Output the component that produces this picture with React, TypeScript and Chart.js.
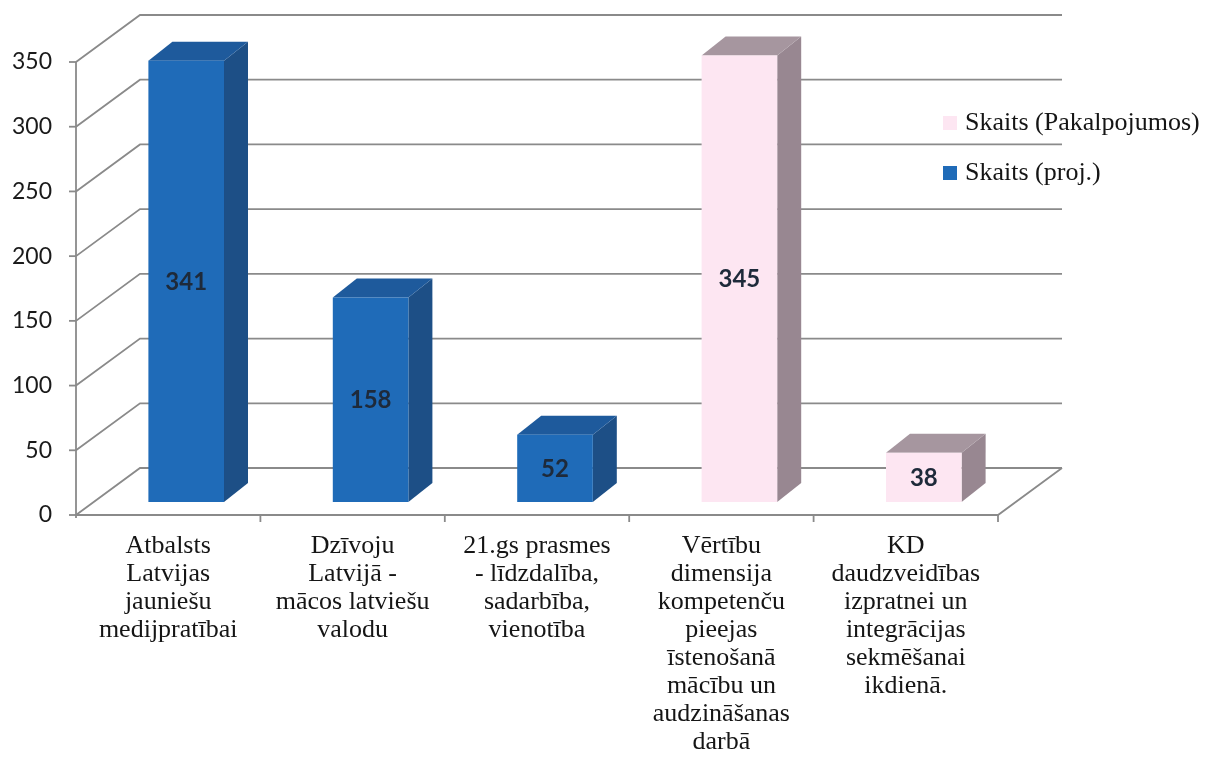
import React, { useEffect, useRef } from "react";
import { Chart, registerables } from "chart.js";

Chart.register(...registerables);

const categories: string[][] = [
  ["Atbalsts", "Latvijas", "jauniešu", "medijpratībai"],
  ["Dzīvoju", "Latvijā -", "mācos latviešu", "valodu"],
  ["21.gs prasmes", "- līdzdalība,", "sadarbība,", "vienotība"],
  ["Vērtību", "dimensija", "kompetenču", "pieejas", "īstenošanā", "mācību un", "audzināšanas", "darbā"],
  ["KD", "daudzveidības", "izpratnei un", "integrācijas", "sekmēšanai", "ikdienā."],
];
const projValues: (number | null)[] = [341, 158, 52, null, null];
const pakalpValues: (number | null)[] = [null, null, null, 345, 38];
const seriesNames = ["Skaits (proj.)", "Skaits (Pakalpojumos)"];
const yTicks = [0, 50, 100, 150, 200, 250, 300, 350];

const BACK_DX = 64;
const BACK_DY = -47;
const BAR_OX = 18;
const BAR_OY = -13;
const BAR_DX = 24;
const BAR_DY = -19;

const palette = [
  { front: "#1f6bb8", top: "#1e5a9c", side: "#1d4f86" },
  { front: "#fde6f2", top: "#a6969f", side: "#988791" },
];

const threeD = {
  id: "threeD",
  beforeDatasetsDraw(chart: any) {
    const { ctx, chartArea } = chart;
    const y = chart.scales.y;
    const L = chartArea.left;
    const R = chartArea.right;
    const y0 = y.getPixelForValue(0);
    ctx.save();
    ctx.strokeStyle = "#8a8a8a";
    ctx.lineWidth = 1.8;
    yTicks.forEach((v) => {
      const py = y.getPixelForValue(v);
      ctx.beginPath();
      ctx.moveTo(L, py);
      ctx.lineTo(L + BACK_DX, py + BACK_DY);
      ctx.lineTo(R + BACK_DX, py + BACK_DY);
      ctx.stroke();
      ctx.beginPath();
      ctx.moveTo(L - 7, py);
      ctx.lineTo(L, py);
      ctx.stroke();
    });
    ctx.beginPath();
    ctx.moveTo(L, y.getPixelForValue(350));
    ctx.lineTo(L, y0 + 3);
    ctx.stroke();
    ctx.beginPath();
    ctx.moveTo(L, y0);
    ctx.lineTo(R, y0);
    ctx.lineTo(R + BACK_DX, y0 + BACK_DY);
    ctx.stroke();
    const n = categories.length;
    const cw = (R - L) / n;
    for (let i = 1; i <= n; i++) {
      const px = L + i * cw;
      ctx.beginPath();
      ctx.moveTo(px, y0);
      ctx.lineTo(px, y0 + 7);
      ctx.stroke();
    }
    ctx.restore();
  },
  beforeDatasetDraw(chart: any, args: any) {
    const { ctx } = chart;
    const meta = args.meta;
    const col = palette[args.index];
    const ds = chart.data.datasets[args.index];
    ctx.save();
    meta.data.forEach((el: any, i: number) => {
      const v = ds.data[i];
      if (v === null || v === undefined) return;
      const p = el.getProps(["x", "y", "base", "width"], true);
      const x0 = p.x - p.width / 2 + BAR_OX;
      const x1 = p.x + p.width / 2 + BAR_OX;
      const top = p.y + BAR_OY;
      const bot = p.base + BAR_OY;
      ctx.fillStyle = col.side;
      ctx.beginPath();
      ctx.moveTo(x1, top);
      ctx.lineTo(x1 + BAR_DX, top + BAR_DY);
      ctx.lineTo(x1 + BAR_DX, bot + BAR_DY);
      ctx.lineTo(x1, bot);
      ctx.closePath();
      ctx.fill();
      ctx.fillStyle = col.top;
      ctx.beginPath();
      ctx.moveTo(x0, top);
      ctx.lineTo(x1, top);
      ctx.lineTo(x1 + BAR_DX, top + BAR_DY);
      ctx.lineTo(x0 + BAR_DX, top + BAR_DY);
      ctx.closePath();
      ctx.fill();
      ctx.fillStyle = col.front;
      ctx.fillRect(x0, top, x1 - x0, bot - top);
      ctx.fillStyle = "#1e2a3a";
      ctx.font = "bold 24px Lato";
      ctx.textAlign = "center";
      ctx.textBaseline = "middle";
      ctx.fillText(String(v), (x0 + x1) / 2, (top + bot) / 2 + 1);
    });
    ctx.restore();
    return false;
  },
  afterDraw(chart: any) {
    const { ctx } = chart;
    const items = [
      { label: chart.data.datasets[1].label, color: palette[1].front, y: 115 },
      { label: chart.data.datasets[0].label, color: palette[0].front, y: 165 },
    ];
    ctx.save();
    ctx.font = "26px 'Liberation Serif'";
    ctx.textBaseline = "middle";
    ctx.textAlign = "left";
    items.forEach((it) => {
      ctx.fillStyle = it.color;
      ctx.fillRect(935, it.y - 7, 14, 14);
      ctx.fillStyle = "#151515";
      ctx.fillText(it.label, 957, it.y);
    });
    ctx.restore();
  },
};

export default function App() {
  const ref = useRef<HTMLCanvasElement | null>(null);
  useEffect(() => {
    if (!ref.current) return;
    const chart = new Chart(ref.current, {
      type: "bar",
      data: {
        labels: categories,
        datasets: [
          { label: seriesNames[0], data: projValues, backgroundColor: palette[0].front, categoryPercentage: 1, barPercentage: 0.41 },
          { label: seriesNames[1], data: pakalpValues, backgroundColor: palette[1].front, categoryPercentage: 1, barPercentage: 0.41 },
        ],
      },
      options: {
        animation: false,
        responsive: false,
        layout: { padding: { top: 54, right: 204, bottom: 0, left: 0 } },
        plugins: { legend: { display: false }, tooltip: { enabled: false } },
        scales: {
          x: {
            stacked: true,
            grid: { display: false, drawTicks: false },
            border: { display: false },
            ticks: {
              padding: 17,
              color: "#151515",
              font: { family: "'Liberation Serif'", size: 26, lineHeight: "28px" },
              maxRotation: 0,
              autoSkip: false,
            },
            afterFit: (s: any) => {
              s.height = 248;
            },
          },
          y: {
            stacked: true,
            min: 0,
            max: 350,
            grid: { display: false, drawTicks: false },
            border: { display: false },
            ticks: {
              stepSize: 50,
              padding: 24,
              color: "#1a1a1a",
              font: { family: "Lato", size: 23 },
            },
            afterFit: (s: any) => {
              s.width = 68;
            },
          },
        },
      } as any,
      plugins: [threeD],
    });
    return () => chart.destroy();
  }, []);
  return (
    <div style={{ width: 1194, height: 755 }}>
      <canvas ref={ref} width={1194} height={755} style={{ display: "block" }} />
    </div>
  );
}
